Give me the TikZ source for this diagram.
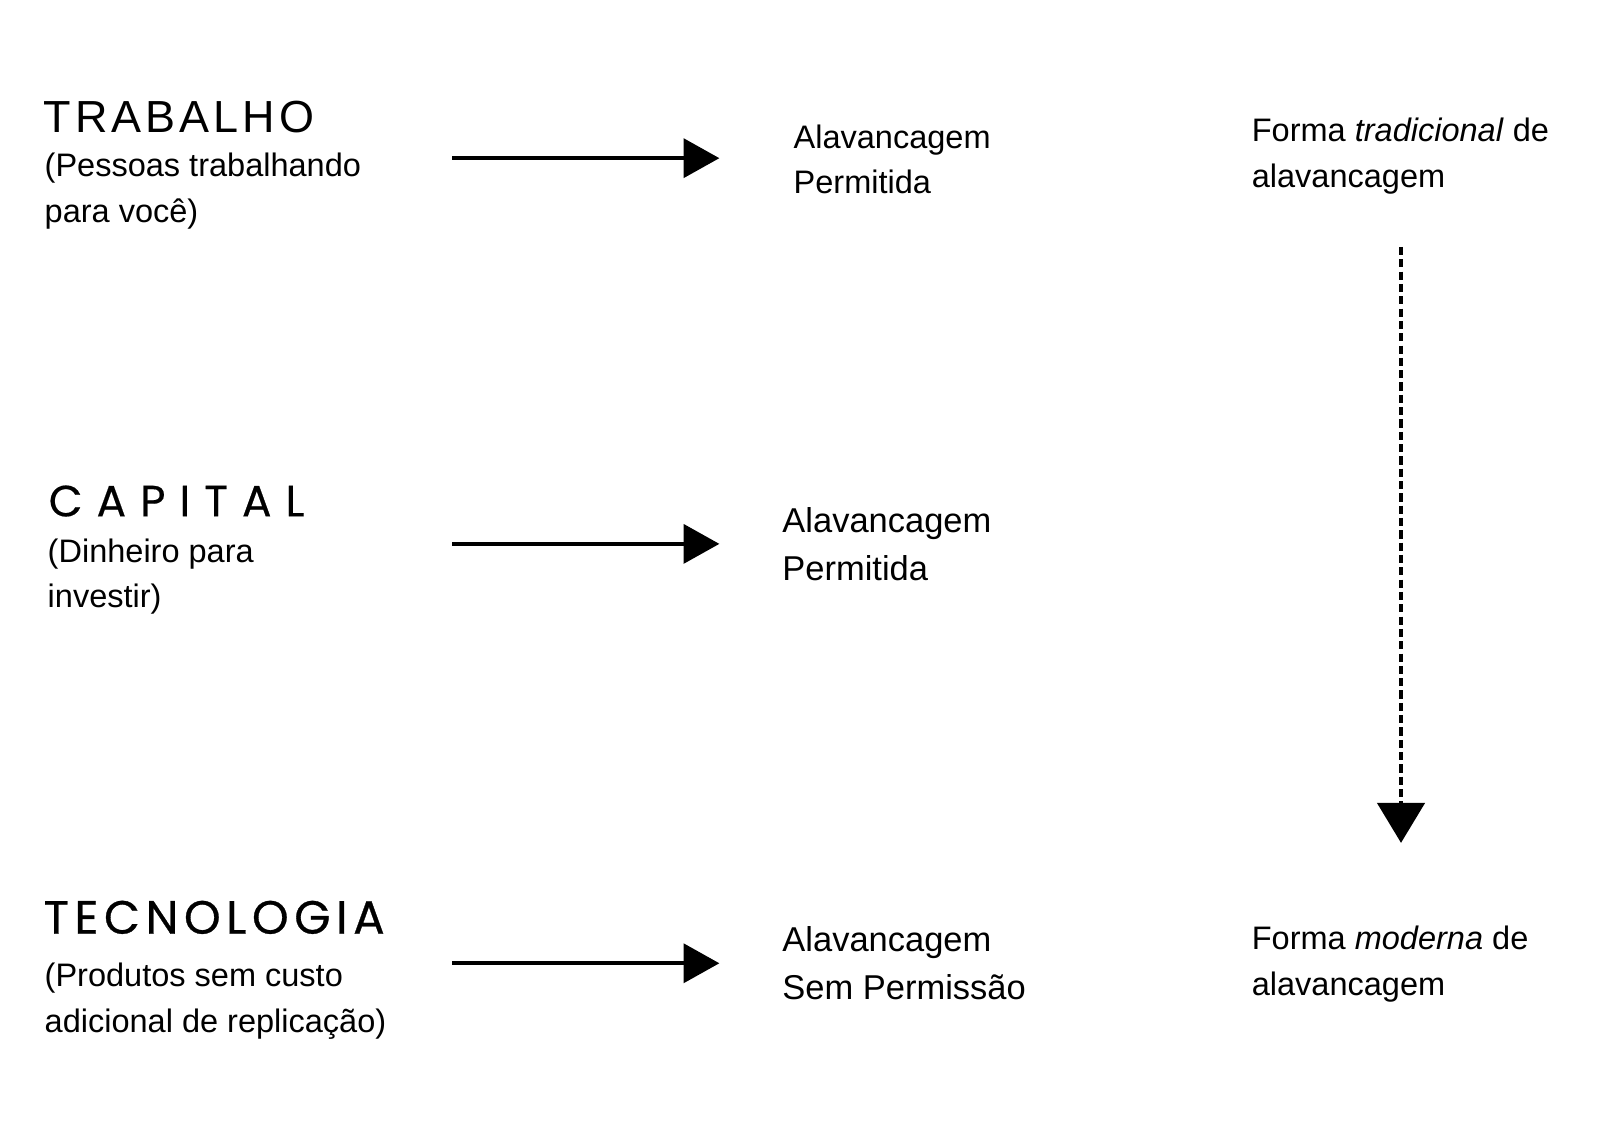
\documentclass[tikz,border=0pt]{standalone}
\usepackage{fontspec}
\setmainfont{Liberation Sans}
\newfontfamily\titlefont[LetterSpace=9]{Liberation Sans}
\newfontfamily\widefont[LetterSpace=32,FakeBold=0.4]{Poppins}
\newfontfamily\capfont[LetterSpace=12,FakeBold=0.6]{Poppins}
\usetikzlibrary{arrows.meta}
\tikzset{
  body/.style={anchor=west, align=left, inner sep=0pt, font=\fontsize{8.13}{11.4}\selectfont},
  lever/.style={anchor=west, align=left, inner sep=0pt, font=\fontsize{8.62}{12}\selectfont},
  title/.style={anchor=west, inner sep=0pt},
  goes/.style={line width=1.03pt, -{Triangle[length=8.97pt,width=9.74pt]}},
  downarrow/.style={line width=1.03pt, dash pattern=on 2.05pt off 1.03pt, -{Triangle[length=10pt,width=11.8pt]}}
}
\begin{document}
\begin{tikzpicture}[x=0.2551pt, y=-0.2551pt]
    \useasboundingbox (0,0) rectangle (1568,1105) ;
    % trabalho
    \node [title, font=\titlefont\fontsize{11.24}{12}\selectfont] (trabalho) at (42,115) {TRABALHO} ;
    \node [body] (pessoas) at (43,187) {(Pessoas trabalhando\\para você)} ;
    \coordinate (a1) at (443,155) ;
    \coordinate (b1) at (705,155) ;
    \draw [goes] (a1) -- (b1) ;
    \node [body] (perm1) at (777,156) {Alavancagem\\Permitida} ;
    \node [body] (tradicional) at (1226,153) {Forma \textit{tradicional} de\\alavancagem} ;
    % capital
    \node [title, font=\widefont\fontsize{10.95}{12}\selectfont] (capital) at (47,491) {CAPITAL} ;
    \node [body] (dinheiro) at (46,565) {(Dinheiro para\\investir)} ;
    \coordinate (a2) at (443,533) ;
    \coordinate (b2) at (705,533) ;
    \draw [goes] (a2) -- (b2) ;
    \node [lever] (perm2) at (766,533) {Alavancagem\\Permitida} ;
    % tecnologia
    \node [title, font=\capfont\fontsize{11.66}{12}\selectfont] (tecnologia) at (42,899) {TECNOLOGIA} ;
    \node [body] (produtos) at (43,981) {(Produtos sem custo\\adicional de replicação)} ;
    \coordinate (a3) at (443,944) ;
    \coordinate (b3) at (705,944) ;
    \draw [goes] (a3) -- (b3) ;
    \node [lever] (semperm) at (766,944) {Alavancagem\\Sem Permissão} ;
    \node [body] (moderna) at (1226,945) {Forma \textit{moderna} de\\alavancagem} ;
    % tradicional -> moderna
    \coordinate (c0) at (1373,242) ;
    \coordinate (c1) at (1373,826) ;
    \draw [downarrow] (c0) -- (c1) ;
\end{tikzpicture}
\end{document}
